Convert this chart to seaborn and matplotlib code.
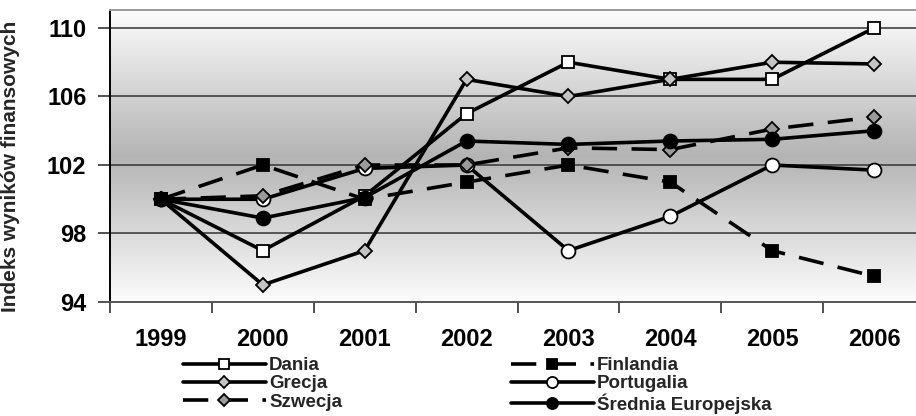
import numpy as np
import pandas as pd
import matplotlib
matplotlib.use("Agg")
import matplotlib.pyplot as plt
from matplotlib.colors import LinearSegmentedColormap
import seaborn as sns

# --- data -------------------------------------------------------------
years = ["1999", "2000", "2001", "2002", "2003", "2004", "2005", "2006"]
dania = [100, 97, 100.2, 105, 108, 107, 107, 110]
finlandia = [100, 102, 100, 101, 102, 101, 97, 95.5]
grecja = [100, 95, 97, 107, 106, 107, 108, 107.9]
portugalia = [100, 100, 101.8, 102, 97, 99, 102, 101.7]
szwecja = [100, 100.2, 102, 102, 103, 102.9, 104.1, 104.8]
srednia = [100, 98.9, 100.1, 103.4, 103.2, 103.4, 103.5, 104.0]
y_ticks = [94, 98, 102, 106, 110]
y_label = "Indeks wyników finansowych"

sns.set_theme(style="white")
plt.rcParams["font.family"] = ["Liberation Sans", "DejaVu Sans"]
plt.rcParams["font.weight"] = "bold"

fig = plt.figure(figsize=(9.16, 4.16), dpi=100)
ax = fig.add_axes([110 / 916, 114 / 416, 815 / 916, 292 / 416])

x = np.arange(len(years))
y_min, y_max = 94, 111.05

# vertical grey gradient: light at top and bottom, darker in the middle
n = 256
t = np.concatenate([np.linspace(0, 1, n), np.linspace(1, 0, n)]).reshape(-1, 1)
cmap = LinearSegmentedColormap.from_list("bg", ["#fcfcfc", "#b4b4b4"])
ax.imshow(t, cmap=cmap, aspect="auto", extent=[-0.5, 7.5, y_min, y_max],
          origin="upper", zorder=0, interpolation="bicubic")

for yv in y_ticks[1:]:
    ax.axhline(yv, color="#333333", lw=1.1, zorder=1)

lw = 2.6
dash = (7, 4)
series = [
    ("Dania", dania, dict(marker="s", markersize=8.5, markerfacecolor="white")),
    ("Finlandia", finlandia, dict(marker="s", markersize=8.5, markerfacecolor="black",
                                  dashes=dash)),
    ("Grecja", grecja, dict(marker="D", markersize=7.5, markerfacecolor="#c4c4c4")),
    ("Portugalia", portugalia, dict(marker="o", markersize=10, markerfacecolor="white")),
    ("Szwecja", szwecja, dict(marker="D", markersize=7.5, markerfacecolor="#9a9a9a",
                              dashes=dash)),
    ("Średnia Europejska", srednia, dict(marker="o", markersize=10,
                                         markerfacecolor="black")),
]

handles = {}
for i, (name, vals, style) in enumerate(series):
    kw = dict(style)
    dashes = kw.pop("dashes", None)
    sns.lineplot(x=x, y=vals, ax=ax, color="black", lw=lw,
                 markeredgecolor="black", markeredgewidth=1.3,
                 zorder=3 + i, legend=False, **kw)
    line = ax.lines[-1]
    if dashes is not None:
        line.set_dashes(dashes)
    handles[name] = line

ax.set_xlim(-0.5, 7.5)
ax.set_ylim(y_min, y_max)
ax.set_yticks(y_ticks)
ax.set_yticklabels([str(v) for v in y_ticks], fontsize=17, fontweight="bold")
ax.set_xticks(x)
ax.set_xticklabels(years, fontsize=17, fontweight="bold")
ax.set_xticks(np.arange(-0.5, 8.0, 1.0), minor=True)
ax.tick_params(axis="x", which="major", length=0, pad=19, colors="black")
ax.tick_params(axis="x", which="minor", length=8, width=1.2, color="#333333",
               direction="out", bottom=True)
ax.tick_params(axis="y", which="major", length=9, width=1.2, color="#333333",
               direction="out", pad=8, left=True, labelcolor="black")

for side in ["left", "bottom", "top", "right"]:
    ax.spines[side].set_visible(True)
ax.spines["left"].set_color("black")
ax.spines["left"].set_linewidth(1.4)
ax.spines["bottom"].set_color("#555555")
ax.spines["bottom"].set_linewidth(1.4)
ax.spines["top"].set_color("#9a9a9a")
ax.spines["top"].set_linewidth(1.4)
ax.spines["right"].set_visible(False)

ax.set_xlabel("")
ax.set_ylabel(y_label, fontsize=15, fontweight="bold")
ax.yaxis.set_label_coords((20 - 110) / 815, (416 - 166 - 114) / 292)

order = ["Dania", "Grecja", "Szwecja", "Finlandia", "Portugalia", "Średnia Europejska"]
leg = fig.legend([handles[k] for k in order], order, loc="upper left",
                 bbox_to_anchor=(183 / 916, 1 - 357 / 416), ncol=2, frameon=False,
                 prop=dict(size=13.5, weight="bold"), handlelength=4.4,
                 handletextpad=0.2, columnspacing=9.0, labelspacing=0.06,
                 borderpad=0, borderaxespad=0, markerscale=0.8)

fig.savefig("out.png", dpi=100)
